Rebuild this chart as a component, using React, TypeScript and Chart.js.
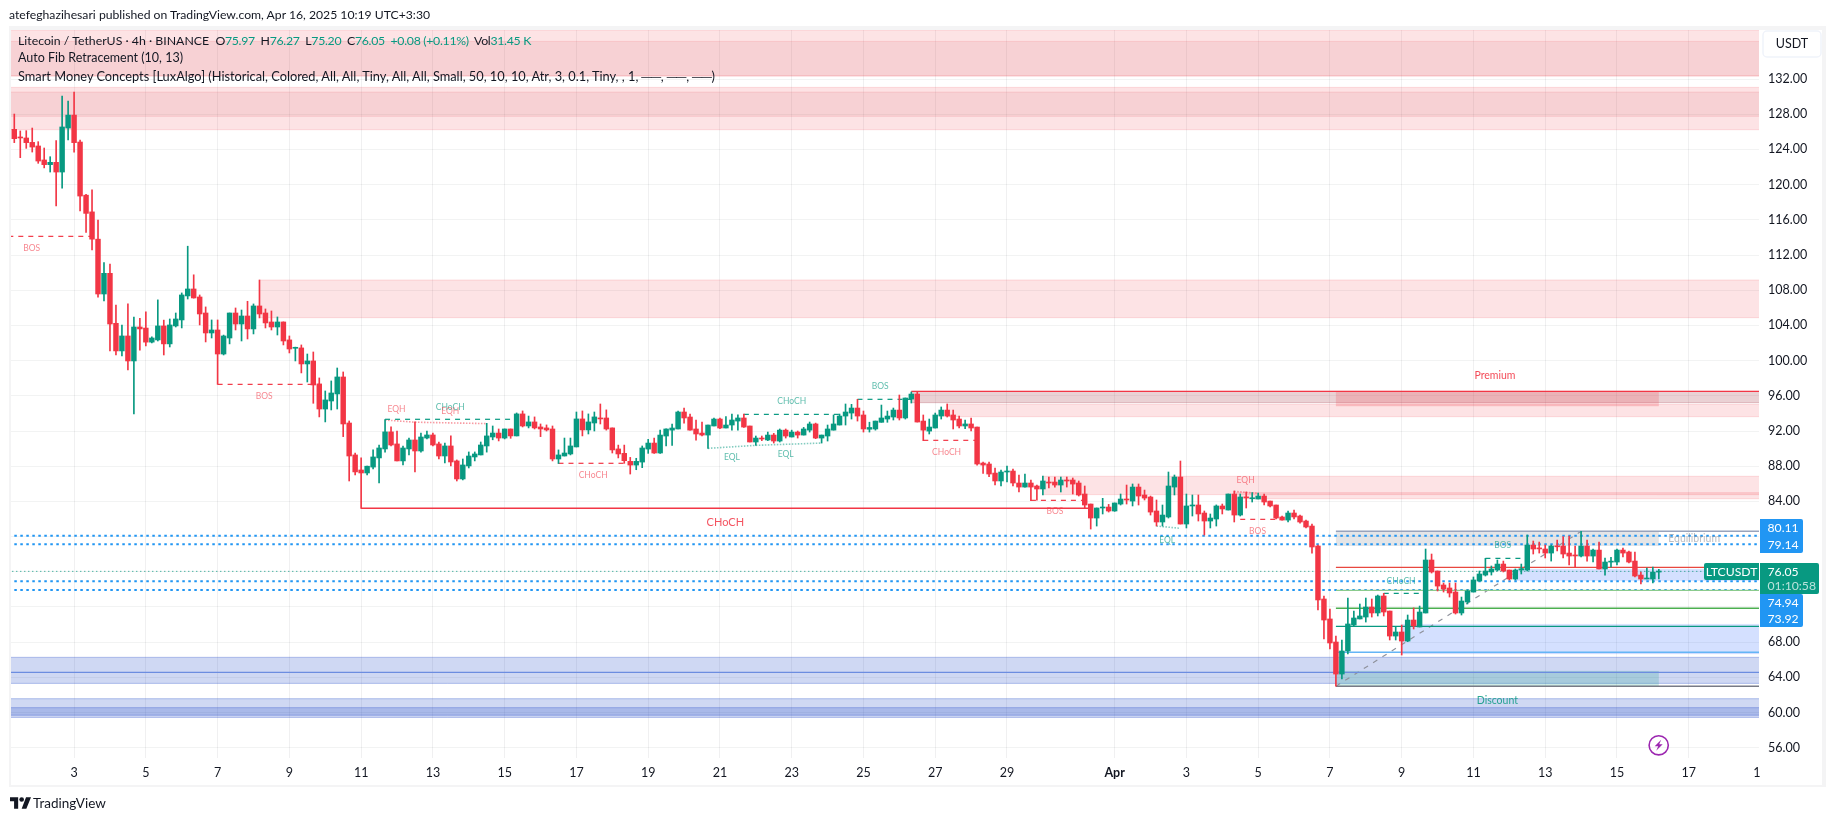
import { useEffect, useRef } from 'react';
import { Chart, registerables } from 'chart.js';

Chart.register(...registerables);

const FONT = 'Lato, "Noto Sans", sans-serif';
const UP = '#089981';
const DOWN = '#F23645';

const opens = [
  126.28,125.4,125.3,124.8,124.39,122.8,122.27,122.53,121.43,126.43,
  127.9,124.84,118.8,116.9,113.8,107.57,109.92,104.24,101.1,102.8,
  99.96,103.82,103.7,102.1,102.35,103.94,101.9,103.94,104.62,107.35,
  108.14,107.23,105.41,103.14,103.48,100.75,102.57,105.41,104.16,105.07,
  103.6,106.21,105.41,104.39,103.82,104.39,102.35,101.4,101.44,99.62,
  99.96,97.35,94.5,95.41,96.21,98.14,92.91,89.28,87.57,87.23,
  87.9,88.94,89.96,91.9,90.53,88.6,89.96,90.98,89.73,91.2,
  91.55,90.53,89.16,90.3,88.6,86.55,88.03,89.05,89.28,90.3,
  91.32,91.77,91.2,92.23,91.44,93.94,92.57,93.03,92.46,92.35,
  92.23,88.82,89.16,89.39,90.19,93.37,92.12,92.91,93.48,93.48,
  92.35,89.96,89.46,88.55,88.13,88.47,89.95,90.63,89.5,91.43,
  92.1,92.23,94.16,93.59,92.23,91.77,91.54,92.57,93.36,92.34,
  92.68,93.13,93.48,92.57,90.75,91.2,90.98,91.54,90.86,92.1,
  91.32,91.88,91.54,92.1,92.8,91.2,91.43,92.1,92.68,93.7,
  94.04,94.61,93.82,92.2,92.23,92.99,93.36,93.59,94.38,93.48,
  95.63,96.2,93.13,91.99,92.34,93.7,94.38,93.82,93.36,92.57,
  92.8,92.45,88.36,88.25,87.22,86.32,87.34,87.45,86.09,85.63,
  86.09,85.75,85.41,86.2,86.2,85.86,86.43,86.43,86.09,84.84,
  83.7,82.11,83.25,83.36,82.91,83.7,84.27,84.04,85.63,84.73,
  84.5,82.91,81.66,82.23,85.63,86.77,81.43,83.48,83.59,82.68,
  81.77,82,83.48,83.02,84.84,82.45,84.5,84.3,84.27,84.61,
  84.04,83.59,82.23,81.88,82.68,82.34,81.77,81.2,78.93,72.91,
  70.64,68.02,64.38,67,69.95,70.64,70.86,72,71.32,73.25,
  71.54,68.7,69.16,68.13,70.52,69.73,71.32,77.34,76.09,74.5,
  74.16,73.7,71.32,72.57,73.7,74.95,75.63,75.98,76.2,76.88,
  76.2,75.18,76.2,76.2,79.04,78.7,78.59,78.13,78.93,78.93,
  78.13,77.9,77.79,78.93,77.79,78.47,76.32,77.1,77.11,78.47,
  78.25,77.22,75.63,75.18,75.18,75.97,
];
const highs = [
  128.02,126.1,126.13,126.43,124.88,124.16,123.17,125,130.07,129.5,
  130.52,125.07,118.9,119.4,115.98,111.13,110.98,106.32,104.05,106.44,
  104.96,104.8,105.53,102.7,106.9,104.6,104.73,105.41,107.69,113,
  109.75,107.46,106.1,104.62,104.62,102.9,105.41,105.98,105.75,106.74,
  106.44,109.16,105.87,105.64,104.96,104.4,102.8,101.53,101.78,100.75,
  100.98,98.03,96.55,97.69,99.16,98.71,93.14,89.5,88.94,88,
  89.85,90.41,93.3,92.46,92,90.3,91.2,93.03,91.77,92,
  91.77,90.75,90.64,91.44,88.71,88.82,89.62,89.62,90.75,92.87,
  92.57,92.23,92.23,92.23,94.05,94.28,93.7,93.6,92.8,92.69,
  92.57,89.85,91.2,91.2,94.16,94.28,93.94,94.16,95.07,94.4,
  92.35,90.4,90.4,89,88.9,90.3,91.05,91.2,92.1,92.26,
  92.8,94.27,94.61,93.93,93.25,93,92.68,93.48,93.48,93.63,
  93.93,93.85,93.93,92.57,91.43,91.43,91.88,91.73,92.23,92.23,
  92.1,92,92.41,93.02,92.9,91.54,92.68,93.82,93.93,95.07,
  95.03,95.6,94.27,93,93.13,94.95,94.27,94.61,96.09,95.75,
  96.43,96.43,93.82,93.36,94.04,94.73,95.07,94.38,93.7,93.25,
  93.48,92.45,88.48,88.48,87.79,87.57,88,87.68,87,87.11,
  86.43,85.86,86.89,86.77,86.77,86.77,86.77,86.66,86.32,85.75,
  83.7,83.25,84.35,83.66,83.82,84.84,85.86,85.98,85.98,85.29,
  84.61,84.16,83.59,87.34,87,88.59,84.84,84.73,84.73,82.91,
  82.57,83.6,83.7,84.84,85.18,84.84,85.07,85,84.95,84.84,
  84.04,83.59,82.34,82.91,83.02,82.45,81.88,81.43,79.04,73.25,
  71.77,68.7,68.25,73.02,71.55,72.34,73.02,72.91,73.36,73.55,
  71.54,69.77,69.95,71.09,71.89,72.11,78.59,78.02,76.09,74.72,
  74.72,74.72,73.13,73.93,75.41,76.09,77.53,76.66,77.34,77.22,
  76.2,76.32,76.88,80.18,79.5,79.38,79.04,79.04,79.6,79.99,
  80.07,78.93,80.6,79.6,78.59,79.38,77.57,77.64,78.59,78.7,
  78.36,78.25,75.98,76.43,76.54,76.27,
];
const lows = [
  124.77,123.06,124.12,123.7,122.42,121.9,121.43,117.57,119.6,125.07,
  123.7,117,114.57,112.57,107.2,106.78,101.1,100.64,100.53,98.94,
  93.94,101.2,101.66,102,102.23,100.64,101.55,103.82,103.71,107,
  107.1,104.05,102.12,102.57,97.3,100.64,101.9,103.48,102.23,102.46,
  103.03,104.85,103.71,103.48,102.91,101.78,100.87,99.96,98.6,97.57,
  95.15,93.6,93.03,94.39,94.5,91.36,86.32,87,83.2,87,
  87.69,86.1,89.6,90.3,88.6,88.14,89.28,87.35,89.6,91.1,
  90.3,88.82,88.37,88.03,86.32,86.44,87.8,88.6,89.28,89.6,
  91,90.87,91.1,91.17,91.44,92.46,92.35,92.23,91.36,92,
  88.6,88.3,89.16,89.28,90.19,91.44,91.66,92,92.8,92.1,
  89.5,88.94,88.33,87.11,87.6,87.83,89.46,89.46,89.46,90.3,
  90.37,92.23,92.9,92.1,90.97,91.43,90.03,92.57,92.26,92.34,
  92.1,92.1,92.41,90.75,90.37,90.9,90.9,90.63,90.75,91.2,
  91.32,91.2,91.54,91.88,91.13,90.63,90.86,92.1,92.68,92.68,
  93.36,93.13,91.88,91.88,92.1,92.99,92.99,93.25,93.25,93.36,
  95.18,93.02,90.9,91.66,92.34,93.36,93.59,92.23,92.34,92.26,
  92,88.13,87.19,86.81,85.86,85.75,86.2,85.75,85.07,85.63,
  84.08,84.15,84.73,85.52,85.63,85.07,85.63,84.84,84.61,83.25,
  80.86,81.2,82.57,82.79,82.87,83.59,83.7,83.48,83.59,84.16,
  82.45,81.2,81.2,82.11,84.73,81.43,80.98,82.34,81.77,80.18,
  80.98,81.2,82.57,83.02,81.66,82.34,83.25,83.93,84.27,83.59,
  83.36,82,81.88,81.66,82,81.54,80.98,78.13,71.66,68.36,
  67.23,63,63.82,66.66,69.84,70.64,70.29,70.86,70.98,70.98,
  68.25,68.25,66.54,68.06,69.5,69.73,71.32,75.86,73.82,73.7,
  73.13,71.2,71.09,72.34,73.7,74.95,75.52,75.63,76.09,75.98,
  75.07,75.07,75.75,76.09,78.02,78.13,77.57,77.22,78.36,77.57,
  76.77,76.5,77.68,77.22,77.11,76.32,75.63,76.54,76.77,77.68,
  77,75.41,74.61,75.18,74.73,75.2,
];
const closes = [
  125.22,125.3,124.77,124.27,122.68,122.27,122.53,121.43,126.55,127.9,
  124.77,118.7,116.73,113.8,107.57,109.92,104.16,101.1,102.8,99.96,
  103.82,103.6,102.1,102.57,103.94,101.9,104.05,104.73,107.46,108.14,
  107.12,105.3,103.14,103.48,100.75,102.8,105.41,104.16,105.07,103.6,
  106.21,105.3,104.28,103.82,104.39,102.23,101.32,101.5,99.62,99.96,
  97.23,94.5,95.53,96.32,98.14,92.8,89.16,87.35,87.23,88,
  89.05,90.07,91.9,90.41,88.6,90.07,90.98,89.73,91.32,91.55,
  90.41,89.16,90.3,88.48,86.55,88.14,89.16,89.39,90.41,91.44,
  91.77,91.2,92.23,91.44,93.94,92.57,93.03,92.35,92.23,92.12,
  88.82,89.28,89.5,90.3,93.37,92.12,93.03,93.6,93.37,92.23,
  89.85,89.39,88.63,88.13,88.55,90.07,90.63,89.5,91.54,92.23,
  92.34,94.16,93.48,92.1,91.66,91.54,92.68,93.36,92.34,92.68,
  93.25,93.48,92.45,90.75,91.2,91.09,91.54,90.86,92.1,91.43,
  91.88,91.54,92.23,92.8,91.2,91.54,92.23,92.8,93.7,94.16,
  94.61,93.7,92.23,92.4,93.13,93.48,93.7,94.38,93.48,95.75,
  96.2,93.02,92.1,92.45,93.82,94.38,93.7,93.25,92.57,92.8,
  92.34,88.25,88.13,87.11,86.32,87.34,87.45,86.09,85.63,86.09,
  85.63,85.41,86.32,86.09,85.86,86.43,86.32,85.97,84.73,83.59,
  82.11,83.25,83.36,82.91,83.82,84.27,84.16,85.63,84.61,84.38,
  82.79,81.66,82.45,85.75,86.77,81.43,83.48,83.59,82.57,81.77,
  82.11,83.48,83.14,84.84,82.45,84.5,84.4,84.4,84.61,83.93,
  83.48,82.11,81.88,82.68,82.23,81.66,81.09,78.82,72.8,70.52,
  67.91,64.38,67,70.07,70.75,70.98,72,71.32,73.25,71.43,
  68.7,69.16,68.13,70.52,69.84,71.43,77.34,75.98,74.38,74.04,
  73.59,71.32,72.68,73.82,75.07,75.75,76.09,76.32,76.88,76.09,
  75.18,76.2,76.35,79.04,78.59,78.6,78.13,78.93,78.84,78.02,
  77.79,77.8,78.93,77.79,78.47,76.32,77.11,77.2,78.47,78.13,
  77.11,75.52,75.18,75.25,75.97,76.05,
];

// bar index of each date label on the time axis
const xTickBars = [10,22,34,46,58,70,82,94,106,118,130,142,154,166,184,196,208,220,232,244,256,268,280,291.4];
const xTickLabels = ['3','5','7','9','11','13','15','17','19','21','23','25','27','29','Apr','3','5','7','9','11','13','15','17','1'];
const yTicks = [56,60,64,68,72,76,80,84,88,92,96,100,104,108,112,116,120,124,128,132];

const END = 292;
const START = -1;

// from bar, to bar, top price, bottom price, kind
const zones: [number, number, number, number, string][] = [
  [START, END, 137.57, 132.34, 'supply'],
  [START, END, 136.28, 132.34, 'supplyOver'],
  [START, END, 131.05, 126.24, 'supply'],
  [START, END, 130.52, 127.76, 'supplyOver'],
  [41, END, 109.16, 104.88, 'supply'],
  [150, END, 96.5, 95.22, 'mixed'],
  [156, END, 95.03, 93.63, 'supply'],
  [221, 275, 96.5, 94.84, 'premium'],
  [172, END, 86.85, 84.77, 'supply'],
  [204, END, 84.99, 84.3, 'supply'],
  [221, 275, 80.6, 78.93, 'equilibrium'],
  [251, END, 76.28, 75, 'fib'],
  [232, END, 70.03, 66.66, 'fib'],
  [START, END, 66.28, 63.32, 'demand'],
  [221, 275, 64.69, 63, 'discount'],
  [START, END, 61.58, 59.45, 'demand'],
  [START, END, 60.56, 59.7, 'demand'],
];

// from bar, from price, to bar, to price, kind
const lines: [number, number, number, number, string][] = [
  [START, 114.12, 13.5, 114.12, 'redDash'],
  [34, 97.3, 51, 97.3, 'redDash'],
  [58, 83.22, 180, 83.22, 'redSolid'],
  [62, 93.33, 84, 93.33, 'greenDash'],
  [62, 93.25, 67, 93, 'redDot'],
  [67, 93, 79, 92.84, 'redDot'],
  [91, 88.33, 103, 88.33, 'redDash'],
  [122, 93.89, 139, 93.89, 'greenDash'],
  [141, 95.6, 150, 95.6, 'greenDash'],
  [116, 90.03, 124, 90.37, 'greenDot'],
  [124, 90.37, 135, 90.63, 'greenDot'],
  [152, 90.94, 161, 90.94, 'redDash'],
  [170, 84.12, 179, 84.12, 'redDash'],
  [205, 81.96, 212, 81.96, 'redDash'],
  [204, 85.14, 208, 84.92, 'redDot'],
  [191, 81.2, 195, 80.94, 'greenDot'],
  [229, 73.55, 236, 73.55, 'greenDash'],
  [246, 77.53, 253, 77.53, 'greenDash'],
  [150, 96.5, END, 96.5, 'redSolid'],
  [221, 80.6, END, 80.6, 'fibTop'],
  [221, 76.5, END, 76.5, 'fibRed'],
  [221, 73.89, END, 73.89, 'fibLime'],
  [221, 71.85, END, 71.85, 'fibGreen'],
  [221, 69.8, END, 69.8, 'fibTeal'],
  [221, 66.85, END, 66.85, 'fibBlue'],
  [221, 63, END, 63, 'fibBottom'],
  [START, 64.57, END, 64.57, 'blueLevel'],
  [221, 63, 262, 80.6, 'fibDiagonal'],
  [START, 76.05, END, 76.05, 'lastPrice'],
  [START, 80.11, END, 80.11, 'alert'],
  [START, 79.14, END, 79.14, 'alert'],
  [START, 74.94, END, 74.94, 'alert'],
  [START, 73.92, END, 73.92, 'alert'],
];

// text, bar, price, kind
const marks: [string, number, number, string][] = [
  ['BOS', 2.9, 112.76, 'red'],
  ['BOS', 41.8, 95.9, 'red'],
  ['EQH', 63.9, 94.43, 'red'],
  ['CHoCH', 72.9, 94.7, 'green'],
  ['EQH', 72.9, 94.2, 'red'],
  ['CHoCH', 96.8, 86.93, 'red'],
  ['CHoCH', 118.9, 81.58, 'redBig'],
  ['CHoCH', 130, 95.33, 'green'],
  ['BOS', 144.8, 97.07, 'green'],
  ['EQL', 120, 89, 'green'],
  ['EQL', 129, 89.31, 'green'],
  ['CHoCH', 155.9, 89.54, 'red'],
  ['BOS', 174, 82.83, 'red'],
  ['EQL', 192.8, 79.54, 'green'],
  ['EQH', 205.9, 86.35, 'red'],
  ['BOS', 207.9, 80.56, 'red'],
  ['CHoCH', 231.9, 74.92, 'green'],
  ['BOS', 248.9, 78.97, 'green'],
  ['Premium', 247.6, 98.3, 'premium'],
  ['Discount', 248, 61.35, 'discount'],
  ['Equilibrium', 280.9, 79.73, 'equilibrium'],
];

const ZONE_STYLE: Record<string, { fill: string; edge: string }> = {
  supply: { fill: 'rgba(242,54,69,0.14)', edge: 'rgba(242,54,69,0.15)' },
  supplyOver: { fill: 'rgba(200,60,70,0.1)', edge: 'rgba(242,54,69,0.12)' },
  mixed: { fill: 'rgba(170,70,85,0.25)', edge: 'rgba(170,70,85,0.3)' },
  premium: { fill: 'rgba(242,54,69,0.2)', edge: 'rgba(242,54,69,0.1)' },
  equilibrium: { fill: 'rgba(120,123,134,0.2)', edge: 'rgba(120,123,134,0)' },
  fib: { fill: 'rgba(41,98,255,0.2)', edge: 'rgba(41,98,255,0.05)' },
  demand: { fill: 'rgba(30,70,200,0.21)', edge: 'rgba(30,70,200,0.3)' },
  discount: { fill: 'rgba(8,153,129,0.2)', edge: 'rgba(8,153,129,0.1)' },
};

const LINE_STYLE: Record<string, { color: string; width: number; dash: number[] }> = {
  redDash: { color: DOWN, width: 1.2, dash: [5, 5] },
  greenDash: { color: UP, width: 1.2, dash: [5, 5] },
  redSolid: { color: DOWN, width: 1.4, dash: [] },
  redDot: { color: 'rgba(242,54,69,0.5)', width: 1.6, dash: [1.5, 1.5] },
  greenDot: { color: 'rgba(8,153,129,0.5)', width: 1.6, dash: [1.5, 1.5] },
  fibTop: { color: '#98A3BC', width: 1.4, dash: [] },
  fibRed: { color: '#E8473F', width: 1.2, dash: [] },
  fibLime: { color: '#8BCB8E', width: 1.4, dash: [] },
  fibGreen: { color: '#4CAF50', width: 1.4, dash: [] },
  fibTeal: { color: '#089981', width: 1.4, dash: [] },
  fibBlue: { color: '#64B5F6', width: 1.4, dash: [] },
  fibBottom: { color: '#787B86', width: 1.4, dash: [] },
  blueLevel: { color: '#6C8DE0', width: 1.2, dash: [] },
  fibDiagonal: { color: '#8F929C', width: 1.2, dash: [5, 6] },
  lastPrice: { color: UP, width: 1, dash: [1, 3] },
  alert: { color: '#2196F3', width: 2, dash: [2.5, 3.5] },
};

const MARK_STYLE: Record<string, { color: string; size: number }> = {
  red: { color: 'rgba(242,54,69,0.6)', size: 8.5 },
  green: { color: 'rgba(8,153,129,0.65)', size: 8.5 },
  redBig: { color: 'rgba(242,54,69,0.85)', size: 11 },
  premium: { color: 'rgba(242,54,69,0.9)', size: 10.5 },
  discount: { color: 'rgba(8,153,129,0.85)', size: 10.5 },
  equilibrium: { color: 'rgba(120,123,134,0.5)', size: 10.5 },
};

const overlayPlugin = {
  id: 'overlay',
  beforeDraw(chart: any) {
    const { ctx } = chart;
    ctx.save();
    ctx.fillStyle = '#fff';
    ctx.fillRect(0, 0, chart.width, chart.height);
    // outer frame of the published snapshot
    ctx.fillStyle = '#F4F4F5';
    ctx.fillRect(9, 26, 1817, 4);
    ctx.fillRect(9, 26, 2, 761);
    ctx.fillRect(1822, 26, 4, 761);
    ctx.fillRect(9, 785, 1817, 2);
    ctx.restore();
  },
  beforeDatasetsDraw(chart: any) {
    const { ctx, chartArea: a, scales: { x, y } } = chart;
    ctx.save();
    ctx.beginPath();
    ctx.rect(a.left, a.top, a.right - a.left, a.bottom - a.top);
    ctx.clip();
    for (const [from, to, top, bottom, kind] of zones) {
      const st = ZONE_STYLE[kind];
      const x0 = x.getPixelForValue(from);
      const x1 = x.getPixelForValue(to);
      const y0 = y.getPixelForValue(top);
      const y1 = y.getPixelForValue(bottom);
      ctx.fillStyle = st.fill;
      ctx.fillRect(x0, y0, x1 - x0, y1 - y0);
      ctx.strokeStyle = st.edge;
      ctx.lineWidth = 1;
      ctx.beginPath();
      ctx.moveTo(x0, y0);
      ctx.lineTo(x1, y0);
      ctx.moveTo(x0, y1);
      ctx.lineTo(x1, y1);
      ctx.stroke();
    }
    ctx.restore();
  },
  afterDatasetsDraw(chart: any) {
    const { ctx, scales: { x, y } } = chart;
    ctx.save();
    ctx.textAlign = 'center';
    ctx.textBaseline = 'middle';
    for (const [text, bar, price, kind] of marks) {
      const st = MARK_STYLE[kind];
      ctx.font = `${st.size}px ${FONT}`;
      ctx.fillStyle = st.color;
      ctx.fillText(text, x.getPixelForValue(bar), y.getPixelForValue(price));
    }
    // bolt marker under the last bar
    const cx = 1658.7;
    const cy = 745.3;
    ctx.strokeStyle = '#9C27B0';
    ctx.lineWidth = 1.6;
    ctx.beginPath();
    ctx.arc(cx, cy, 9.6, 0, Math.PI * 2);
    ctx.stroke();
    ctx.fillStyle = '#9C27B0';
    ctx.beginPath();
    ctx.moveTo(cx + 2.5, cy - 5.5);
    ctx.lineTo(cx - 4, cy + 1);
    ctx.lineTo(cx - 0.5, cy + 1);
    ctx.lineTo(cx - 2.5, cy + 5.5);
    ctx.lineTo(cx + 4, cy - 1);
    ctx.lineTo(cx + 0.5, cy - 1);
    ctx.closePath();
    ctx.fill();
    ctx.restore();
  },
  afterDraw(chart: any) {
    const { ctx } = chart;
    ctx.save();
    ctx.textBaseline = 'middle';
    ctx.font = `12.2px ${FONT}`;
    // alert tags, pushed apart as the price scale does it
    ctx.fillStyle = '#2196F3';
    ctx.beginPath();
    ctx.roundRect(1760, 519, 43, 34, [0, 2, 2, 0]);
    ctx.roundRect(1760, 594, 43, 33, [0, 2, 2, 0]);
    ctx.fill();
    ctx.fillStyle = UP;
    ctx.beginPath();
    ctx.roundRect(1760, 563, 59, 31, [0, 2, 2, 0]);
    ctx.roundRect(1704, 563, 55, 17, [2, 0, 0, 2]);
    ctx.fill();
    ctx.fillStyle = '#fff';
    ctx.textAlign = 'left';
    ctx.fillText('80.11', 1767.5, 528);
    ctx.fillText('79.14', 1767.5, 545);
    ctx.fillText('76.05', 1767.5, 572);
    ctx.fillText('74.94', 1767.5, 603);
    ctx.fillText('73.92', 1767.5, 619.5);
    ctx.fillStyle = 'rgba(255,255,255,0.72)';
    ctx.fillText('01:10:58', 1767.5, 586);
    ctx.fillStyle = '#fff';
    ctx.textAlign = 'center';
    ctx.fillText('LTCUSDT', 1731.5, 572);
    // currency button
    ctx.fillStyle = '#fff';
    ctx.strokeStyle = '#F0F3FA';
    ctx.lineWidth = 1.5;
    ctx.beginPath();
    ctx.roundRect(1763, 31, 58, 26, 4);
    ctx.fill();
    ctx.stroke();
    ctx.fillStyle = '#131722';
    ctx.font = `12.5px ${FONT}`;
    ctx.fillText('USDT', 1792, 44);
    ctx.restore();
  },
};

const lineDatasets = lines.map(([x0, y0, x1, y1, kind]) => ({
  type: 'line' as const,
  data: [{ x: x0, y: y0 }, { x: x1, y: y1 }],
  borderColor: LINE_STYLE[kind].color,
  borderWidth: LINE_STYLE[kind].width,
  borderDash: LINE_STYLE[kind].dash,
  pointRadius: 0,
  tension: 0,
  order: 3,
}));

const candleColors = closes.map((c, i) => (c >= opens[i] ? UP : DOWN));

export default function App() {
  const canvasRef = useRef<HTMLCanvasElement>(null);

  useEffect(() => {
    if (!canvasRef.current) return;
    const chart = new Chart(canvasRef.current, {
      type: 'bar',
      data: {
        datasets: [
          {
            data: opens.map((o, i) => ({ x: i, y: [o, closes[i]] })),
            backgroundColor: candleColors,
            barThickness: 4.8,
            minBarLength: 1,
            grouped: false,
            order: 1,
          },
          {
            data: lows.map((l, i) => ({ x: i, y: [l, highs[i]] })),
            backgroundColor: candleColors,
            barThickness: 1,
            grouped: false,
            order: 2,
          },
          ...lineDatasets,
        ] as any,
      },
      plugins: [overlayPlugin],
      options: {
        responsive: false,
        animation: false,
        events: [],
        layout: { padding: { left: 11, top: 30, right: 9, bottom: 36 } },
        plugins: { legend: { display: false }, tooltip: { enabled: false } },
        scales: {
          x: {
            type: 'linear',
            offset: false,
            min: -0.55,
            max: 291.75,
            afterBuildTicks: (s: any) => { s.ticks = xTickBars.map((value) => ({ value })); },
            afterFit: (s: any) => { s.height = 27; },
            grid: {
              offset: false,
              color: (c: any) => (c.tick && c.tick.value === 291.4 ? 'transparent' : 'rgba(42,46,57,0.07)'),
              drawTicks: false,
            },
            border: { display: false },
            ticks: {
              autoSkip: false,
              maxRotation: 0,
              padding: 7,
              color: '#131722',
              font: (c: any) => ({
                family: FONT,
                size: 12.5,
                weight: c.tick && c.tick.label === 'Apr' ? 'bold' : 'normal',
              }),
              callback: (v: any) => xTickLabels[xTickBars.indexOf(Number(v))],
            },
          },
          y: {
            type: 'linear',
            position: 'right',
            min: 54.84,
            max: 137.57,
            afterBuildTicks: (s: any) => { s.ticks = yTicks.map((value) => ({ value })); },
            afterFit: (s: any) => { s.width = 67; },
            grid: { color: 'rgba(42,46,57,0.06)', drawTicks: false },
            border: { display: false },
            ticks: {
              padding: 9,
              color: '#131722',
              font: { family: FONT, size: 12.5 },
              callback: (v: any) => Number(v).toFixed(2),
            },
          },
        },
      },
    });
    return () => { chart.destroy(); };
  }, []);

  const text = { position: 'absolute' as const, whiteSpace: 'pre' as const, fontFamily: FONT, fontSize: 13, color: '#131722', lineHeight: '16px' };
  const val = { color: UP };

  return (
    <div style={{ position: 'fixed', left: 0, top: 0, width: 1835, height: 821, background: '#fff', overflow: 'hidden' }}>
      <canvas ref={canvasRef} width={1835} height={821} style={{ display: 'block' }} />
      <div style={{ ...text, left: 9, top: 7, fontSize: 12.2 }}>atefeghazihesari published on TradingView.com, Apr 16, 2025 10:19 UTC+3:30</div>
      <div style={{ ...text, left: 18, top: 33, fontSize: 12.3 }}>
        Litecoin / TetherUS · 4h · BINANCE{'  '}
        <span style={{ letterSpacing: '-0.3px' }}>
          O<span style={val}>75.97</span>{'  '}H<span style={val}>76.27</span>{'  '}L<span style={val}>75.20</span>{'  '}C<span style={val}>76.05</span>{'  '}<span style={val}>+0.08 (+0.11%)</span>{'  '}Vol<span style={val}>31.45 K</span>
        </span>
      </div>
      <div style={{ ...text, left: 18, top: 50, fontSize: 12.5 }}>Auto Fib Retracement (10, 13)</div>
      <div style={{ ...text, left: 18, top: 68, fontSize: 12.8 }}>Smart Money Concepts [LuxAlgo] (Historical, Colored, All, All, Tiny, All, All, Small, 50, 10, 10, Atr, 3, 0.1, Tiny, , 1, ──, ──, ──)</div>
      <svg style={{ position: 'absolute', left: 10, top: 797 }} width="21" height="12" viewBox="0 0 36 20">
        <path d="M14 20H7V7H0V0h14v20ZM28 20h-8l7.5-20H36l-8 20Z" fill="#131722" />
        <circle cx="20" cy="4" r="4" fill="#131722" />
      </svg>
      <div style={{ ...text, left: 33, top: 795, fontSize: 13.5 }}>TradingView</div>
    </div>
  );
}
